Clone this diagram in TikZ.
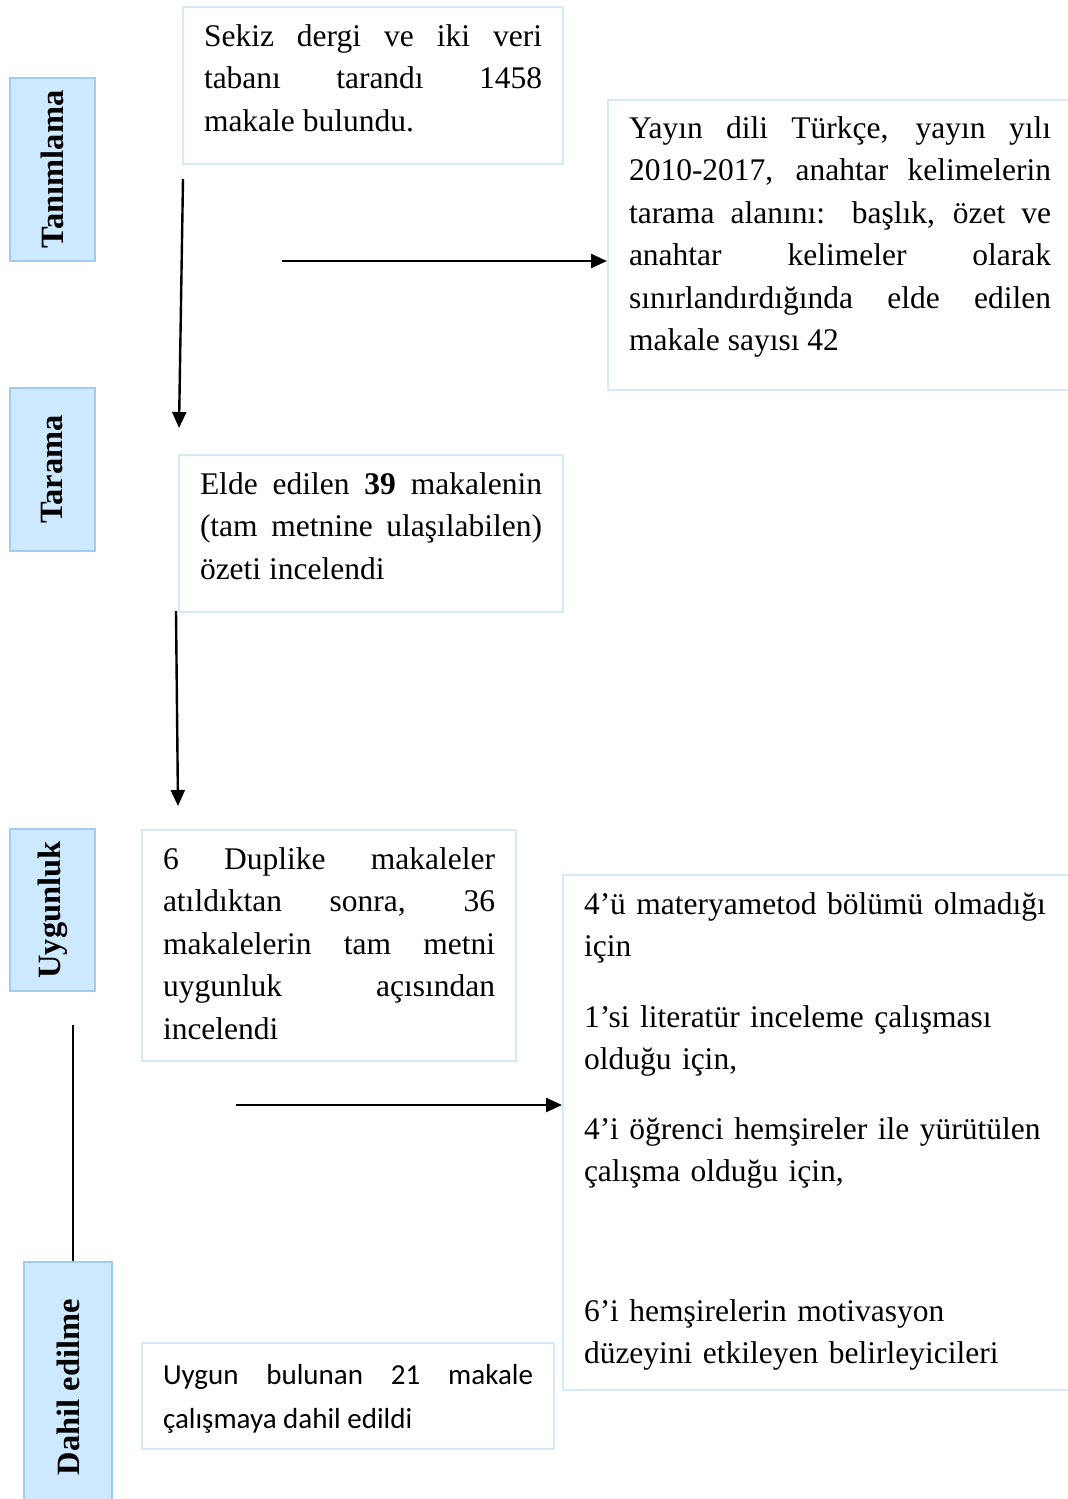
\documentclass[tikz,border=0pt]{standalone}
\usepackage{fontspec}
\setmainfont{Liberation Serif}
\newfontfamily\calfont{Carlito}
\usetikzlibrary{arrows.meta}
\definecolor{boxline}{HTML}{D4EAFB}
\definecolor{sidefill}{HTML}{CCE9FF}
\definecolor{sideline}{HTML}{A3CBF2}
\hbadness=10000 \hyphenpenalty=10000 \exhyphenpenalty=10000 \emergencystretch=20pt
\begin{document}
\begin{tikzpicture}[x=1pt,y=-1pt,
 txtbox/.style={draw=boxline, line width=2pt, anchor=north west, inner xsep=21pt, inner ysep=0pt, align=justify, font=\fontsize{31.5}{42.5}\selectfont},
 side/.style={draw=sideline, fill=sidefill, line width=2pt, rotate=90, font=\bfseries\fontsize{32.5}{38}\selectfont, inner sep=0pt},
 arr/.style={line width=2.4pt, -{Triangle[length=16pt,width=14pt]}},
 plain/.style={line width=2.4pt}]
\useasboundingbox (0,0) rectangle (1068,1499);
% side labels
\node[side, minimum width=183pt, minimum height=85pt] (tanim) at (52.5,169.5) {Tanımlama};
\node[side, minimum width=163pt, minimum height=85pt] (tarama) at (52.5,469.5) {Tarama};
\node[side, minimum width=162pt, minimum height=85pt] (uygun) at (52.5,910) {Uygunluk};
\node[side, minimum width=250pt, minimum height=88pt] (dahil) at (68,1387) {Dahil edilme};
% boxes
\node[txtbox, text width=338pt] (b1) at (182,6) {\rule{0pt}{39pt}Sekiz dergi ve iki veri\linebreak tabanı tarandı 1458\linebreak makale bulundu.\rule[-33pt]{0pt}{33pt}};
\node[txtbox, text width=422pt] (b2) at (607,99) {\rule{0pt}{38pt}Yayın dili Türkçe, yayın yılı\linebreak 2010-2017, anahtar kelimelerin\linebreak tarama alanını: başlık, özet ve\linebreak anahtar kelimeler olarak\linebreak sınırlandırdığında elde edilen\linebreak makale sayısı 42\rule[-39pt]{0pt}{39pt}};
\node[txtbox, text width=342pt] (b3) at (178,454) {\rule{0pt}{39pt}Elde edilen \textbf{39} makalenin\linebreak (tam metnine ulaşılabilen)\linebreak özeti incelendi\rule[-33pt]{0pt}{33pt}};
\node[txtbox, text width=332pt] (b4) at (141,829) {\rule{0pt}{39pt}6 Duplike makaleler\linebreak atıldıktan sonra, 36\linebreak makalelerin tam metni\linebreak uygunluk açısından\linebreak incelendi\rule[-22pt]{0pt}{22pt}};
\node[txtbox, text width=470pt, align=left] (b5) at (562,874) {\rule{0pt}{39pt}4’ü materyametod bölümü olmadığı\\ için\\[28pt] 1’si literatür inceleme çalışması\\ olduğu için,\\[27pt] 4’i öğrenci hemşireler ile yürütülen\\ çalışma olduğu için,\\[97pt] 6’i hemşirelerin motivasyon\\ düzeyini etkileyen belirleyicileri\rule[-26pt]{0pt}{26pt}};
\node[txtbox, text width=370pt, font=\calfont\fontsize{29}{44}\selectfont] (b6) at (141,1342) {\rule{0pt}{41pt}Uygun bulunan 21 makale\linebreak çalışmaya dahil edildi\rule[-21pt]{0pt}{21pt}};
% connectors
\coordinate (p1) at (183,179);
\coordinate (p2) at (179,428);
\draw[arr] (p1) -- (p2);
\coordinate (h1) at (282,261);
\draw[arr] (h1) -- (h1 -| b2.west);
\coordinate (p3) at (176,611);
\coordinate (p4) at (178,806);
\draw[arr] (p3) -- (p4);
\coordinate (h2) at (236,1105);
\draw[arr] (h2) -- (h2 -| b5.west);
\coordinate (v1) at (73,1025);
\draw[plain] (v1) -- (v1 |- dahil.east);
\end{tikzpicture}
\end{document}
